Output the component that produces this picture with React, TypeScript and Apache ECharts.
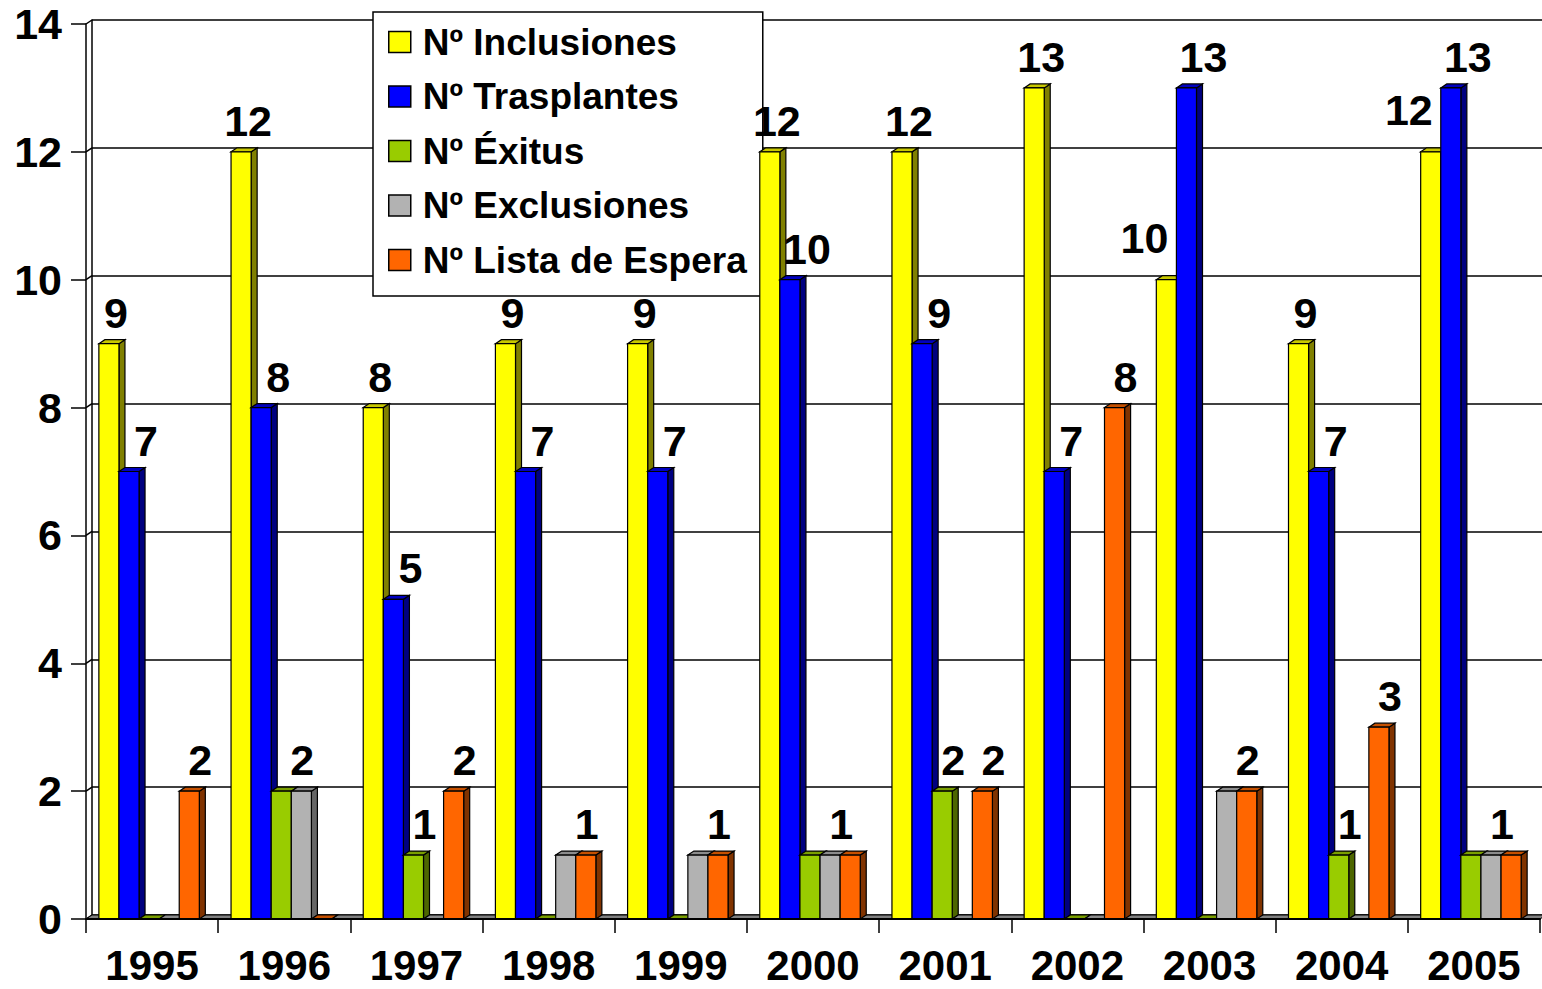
import React, { useEffect, useRef } from "react";
import * as echarts from "echarts";

// ---- data ----
const years = ["1995", "1996", "1997", "1998", "1999", "2000", "2001", "2002", "2003", "2004", "2005"];
const inclusiones = [9, 12, 8, 9, 9, 12, 12, 13, 10, 9, 12];
const trasplantes = [7, 8, 5, 7, 7, 10, 9, 7, 13, 7, 13];
const exitus = [0, 2, 1, 0, 0, 1, 2, 0, 0, 1, 1];
const exclusiones = [0, 2, 0, 1, 1, 1, 0, 0, 2, 0, 1];
const listaEspera = [2, 0, 2, 1, 1, 1, 2, 8, 2, 3, 1];
const seriesNames = ["Nº Inclusiones", "Nº Trasplantes", "Nº Éxitus", "Nº Exclusiones", "Nº Lista de Espera"];
const yTicks = [0, 2, 4, 6, 8, 10, 12, 14];
const yMax = 14;
const yStep = 2;

const allValues = [inclusiones, trasplantes, exitus, exclusiones, listaEspera];

// ---- style ----
const FONT = "'Liberation Sans', Arial, Helvetica, sans-serif";
const DX = 6;
const DY = 4;
const palettes = [
  { front: "#FFFF00", side: "#808000", top: "#C8C800" },
  { front: "#0000FF", side: "#000080", top: "#0000C0" },
  { front: "#99CC00", side: "#4D6600", top: "#7A9F00" },
  { front: "#B2B2B2", side: "#666666", top: "#8C8C8C" },
  { front: "#FF6600", side: "#803300", top: "#C65000" },
];
const labelDx = [7, 17, 11, 11, 11];
const LABEL_SIZE = 43;

function barGeom(api: any, i: number, k: number) {
  const base = api.coord([i, 0]);
  const band = api.size([1, 0])[0];
  const groupW = band * 0.76;
  const bw = groupW / 5;
  const left0 = base[0] - groupW / 2 - DX / 2;
  const x0 = left0 + k * bw;
  return { x0, x1: x0 + bw, bw, yb: base[1] };
}

const makeRender = (k: number) => (params: any, api: any) => {
  const i = api.value(0);
  const v = api.value(1);
  const g = barGeom(api, i, k);
  const yt = api.coord([i, v])[1];
  const { x0, x1, yb } = g;
  const pal = palettes[k];
  const stroke = { stroke: "#000", lineWidth: 1.2 };
  const children: any[] = [
    {
      type: "polygon",
      shape: { points: [[x1, yt], [x1 + DX, yt - DY], [x1 + DX, yb - DY], [x1, yb]] },
      style: { fill: pal.side, ...stroke },
    },
    {
      type: "polygon",
      shape: { points: [[x0, yt], [x0 + DX, yt - DY], [x1 + DX, yt - DY], [x1, yt]] },
      style: { fill: pal.top, ...stroke },
    },
    {
      type: "rect",
      shape: { x: x0, y: yt, width: g.bw, height: yb - yt },
      style: { fill: pal.front, ...stroke },
    },
  ];

  // data label (hidden for zero and for overlapping equal neighbours)
  if (v > 0) {
    let s = k;
    while (s - 1 >= 0 && allValues[s - 1][i] === v) s--;
    let e = k;
    while (e + 1 < allValues.length && allValues[e + 1][i] === v) e++;
    if (k === e) {
      const text = String(v);
      const tw = text.length * 0.556 * LABEL_SIZE;
      const cS = barGeom(api, i, s);
      const cE = barGeom(api, i, e);
      let lx = (cS.x0 + cE.x1) / 2 + labelDx[k];
      let ly = yt - 31;
      if (k + 1 < allValues.length && allValues[k + 1][i] > v) {
        const nxt = barGeom(api, i, k + 1);
        lx = nxt.x0 - 8 - tw / 2;
        ly = yt - 42;
      }
      children.push({
        type: "text",
        z2: 20,
        style: {
          text,
          x: lx,
          y: ly,
          align: "center",
          verticalAlign: "middle",
          fontSize: LABEL_SIZE,
          fontWeight: "bold",
          fontFamily: FONT,
          fill: "#000",
        },
      });
    }
  }
  return { type: "group", children };
};

export default function App() {
  const ref = useRef<HTMLDivElement>(null);

  useEffect(() => {
    if (!ref.current) return;
    const chart = echarts.init(ref.current, null, { renderer: "svg" });

    const frontGrid = { left: 86, top: 24, width: 1454, height: 895 };
    const backGrid = { left: 86 + DX, top: 24 - DY, width: 1454, height: 895 };

    const barSeries = allValues.map((vals, k) => ({
      type: "custom",
      name: seriesNames[k],
      xAxisIndex: 0,
      yAxisIndex: 0,
      z: 5,
      clip: false,
      itemStyle: { color: palettes[k].front, borderColor: "#000", borderWidth: 1.2 },
      data: vals.map((v, i) => [i, v]),
      renderItem: makeRender(k),
    }));

    const option: any = {
      animation: false,
      backgroundColor: "#ffffff",
      textStyle: { fontFamily: FONT },
      grid: [frontGrid, backGrid],
      legend: {
        orient: "vertical",
        left: 373,
        top: 12,
        icon: "rect",
        selectedMode: false,
        data: seriesNames,
        backgroundColor: "#ffffff",
        borderColor: "#000",
        borderWidth: 1.5,
        padding: [10, 16, 16, 15],
        itemWidth: 22,
        itemHeight: 21,
        itemGap: 14.5,
        itemStyle: { borderColor: "#000", borderWidth: 1.5 },
        textStyle: {
          fontSize: 37,
          fontWeight: "bold",
          color: "#000",
          fontFamily: FONT,
          lineHeight: 40,
          padding: [0, 0, 0, 7],
        },
        z: 4,
      },
      xAxis: [
        {
          gridIndex: 0,
          type: "category",
          data: years,
          boundaryGap: true,
          axisLine: { show: true, lineStyle: { color: "#000", width: 2 } },
          axisTick: { show: true, length: 14, interval: 0, lineStyle: { color: "#000", width: 1.5 } },
          axisLabel: {
            interval: 0,
            fontSize: 42,
            fontWeight: "bold",
            color: "#000",
            fontFamily: FONT,
            margin: 28,
            lineHeight: 36,
          },
          splitLine: { show: false },
          z: 6,
        },
        {
          gridIndex: 1,
          type: "category",
          data: years,
          show: false,
        },
      ],
      yAxis: [
        {
          gridIndex: 0,
          type: "value",
          min: 0,
          max: yMax,
          interval: yStep,
          axisLine: { show: true, lineStyle: { color: "#000", width: 1.5 } },
          axisTick: { show: true, length: 15, lineStyle: { color: "#000", width: 1.5 } },
          axisLabel: {
            fontSize: 43,
            fontWeight: "bold",
            color: "#000",
            fontFamily: FONT,
            margin: 24,
          },
          splitLine: { show: false },
        },
        {
          gridIndex: 1,
          type: "value",
          min: 0,
          max: yMax,
          interval: yStep,
          axisLine: { show: true, lineStyle: { color: "#000", width: 1.5 } },
          axisTick: { show: false },
          axisLabel: { show: false },
          splitLine: { show: true, lineStyle: { color: "#000", width: 1.5 } },
        },
      ],
      series: [
        // left wall connectors from front ticks to back gridlines
        {
          type: "custom",
          name: "wall",
          xAxisIndex: 0,
          yAxisIndex: 0,
          z: 1,
          clip: false,
          silent: true,
          data: yTicks.map((t) => [0, t]),
          renderItem: (params: any, api: any) => {
            const p = api.coord([0, api.value(1)]);
            const band = api.size([1, 0])[0];
            const x = p[0] - band / 2;
            return {
              type: "line",
              shape: { x1: x, y1: p[1], x2: x + DX, y2: p[1] - DY },
              style: { stroke: "#000", lineWidth: 1.5 },
            };
          },
        },
        // floor
        {
          type: "custom",
          name: "floor",
          xAxisIndex: 0,
          yAxisIndex: 0,
          z: 2,
          clip: false,
          silent: true,
          data: [[0, 0]],
          renderItem: (params: any, api: any) => {
            const band = api.size([1, 0])[0];
            const a = api.coord([0, 0]);
            const b = api.coord([years.length - 1, 0]);
            const xl = a[0] - band / 2;
            const xr = b[0] + band / 2;
            const y = a[1];
            return {
              type: "polygon",
              shape: { points: [[xl, y], [xl + DX, y - DY], [xr + DX, y - DY], [xr, y]] },
              style: { fill: "#808080", stroke: "#000", lineWidth: 1 },
            };
          },
        },
        ...barSeries,
      ],
    };

    chart.setOption(option);
    return () => chart.dispose();
  }, []);

  return (
    <div
      ref={ref}
      style={{ position: "fixed", left: 0, top: 0, width: 1542, height: 989, background: "#fff" }}
    />
  );
}
